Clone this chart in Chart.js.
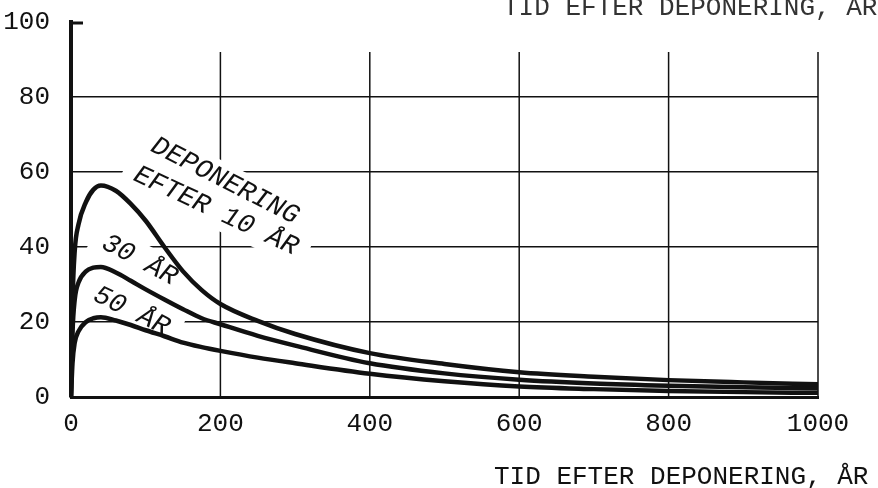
<!DOCTYPE html>
<html>
<head>
<meta charset="utf-8">
<script src="https://cdn.jsdelivr.net/npm/chart.js@4.4.1/dist/chart.umd.min.js"></script>
<style>
  html, body { margin: 0; padding: 0; background: #fff; }
  canvas { display: block; }
</style>
</head>
<body>
<canvas id="c" width="878" height="488"></canvas>
<script>
// Time after deposition (years)
const years   = [0, 2, 5, 10, 20, 30, 40, 60, 80, 100, 125, 150, 175, 200, 250, 300, 400, 500, 600, 700, 800, 900, 1000];
// Curves for deposition after 10, 30 and 50 years
const after10 = [0, 25, 39, 46, 52, 55.3, 56.4, 55, 51.5, 47, 40, 33.5, 28.5, 24.8, 20.3, 16.8, 11.7, 8.8, 6.6, 5.4, 4.5, 3.9, 3.4];
const after30 = [0, 17, 26, 30.5, 33.5, 34.5, 34.7, 33.2, 31, 28.7, 26, 23.4, 21, 19.4, 16.3, 13.7, 9, 6.3, 4.6, 3.6, 3.0, 2.6, 2.3];
const after50 = [0, 9, 14.5, 17.5, 20, 21, 21.3, 20.4, 19.2, 17.8, 16.2, 14.5, 13.3, 12.3, 10.5, 9, 6.2, 4.2, 2.8, 2.1, 1.6, 1.3, 1.1];

const seriesNames = ['DEPONERING EFTER 10 ÅR', '30 ÅR', '50 ÅR'];
const xTickValues = [0, 200, 400, 600, 800, 1000];
const yTickValues = [0, 20, 40, 60, 80, 100];
const bottomTitle = 'TID EFTER DEPONERING, ÅR';
const topTitle    = 'TID EFTER DEPONERING, AR';

// Text written along the curves (placed in data units, angle in degrees)
const curveLabels = [
  { text: 'DEPONERING',  x: 206, y: 57.6, angle: 27 },
  { text: 'EFTER 10 ÅR', x: 194, y: 49.6, angle: 25 },
  { text: '30 ÅR',       x: 92,  y: 36.5, angle: 28 },
  { text: '50 ÅR',       x: 81,  y: 22.9, angle: 26 }
];

const INK = '#111';
const MONO = '"Liberation Mono", "DejaVu Sans Mono", monospace';
const gridTop = 92;   // vertical rulings stop short of the top of the axis

const toPoints = (vals) => years.map((t, i) => ({ x: t, y: vals[i] }));

const lineStyle = {
  borderColor: INK,
  borderWidth: 4.5,
  pointRadius: 0,
  fill: false,
  cubicInterpolationMode: 'monotone',
  borderCapStyle: 'round',
  borderJoinStyle: 'round'
};

const paper = {
  id: 'paper',
  beforeDatasetsDraw(chart) {
    const { ctx, scales: { x, y } } = chart;
    ctx.save();
    // vertical rulings
    ctx.strokeStyle = INK;
    ctx.lineWidth = 1.5;
    const yTop = y.getPixelForValue(gridTop);
    const yBot = y.getPixelForValue(0);
    xTickValues.filter(v => v > 0).forEach(v => {
      const px = x.getPixelForValue(v);
      ctx.beginPath();
      ctx.moveTo(px, yTop);
      ctx.lineTo(px, yBot);
      ctx.stroke();
    });
    // short tick at the top of the vertical axis
    ctx.lineWidth = 3;
    const p100 = y.getPixelForValue(100);
    ctx.beginPath();
    ctx.moveTo(x.left, p100 + 1);
    ctx.lineTo(x.left + 12, p100 + 1);
    ctx.stroke();
    // blank out rulings behind the curve labels
    ctx.fillStyle = '#fff';
    ctx.font = 'italic 27px ' + MONO;
    curveLabels.forEach(l => {
      const w = ctx.measureText(l.text).width;
      ctx.save();
      ctx.translate(x.getPixelForValue(l.x), y.getPixelForValue(l.y));
      ctx.rotate(l.angle * Math.PI / 180);
      ctx.fillRect(-w / 2 - 12, -17, w + 24, 34);
      ctx.restore();
    });
    ctx.restore();
  },
  afterDatasetsDraw(chart) {
    const { ctx, scales: { x, y } } = chart;
    ctx.save();
    ctx.fillStyle = INK;
    ctx.font = 'italic 27px ' + MONO;
    ctx.textAlign = 'center';
    ctx.textBaseline = 'middle';
    curveLabels.forEach(l => {
      ctx.save();
      ctx.translate(x.getPixelForValue(l.x), y.getPixelForValue(l.y));
      ctx.rotate(l.angle * Math.PI / 180);
      ctx.fillText(l.text, 0, 0);
      ctx.restore();
    });
    // axis title below and repeated at the top
    ctx.font = '26px ' + MONO;
    ctx.textAlign = 'left';
    ctx.textBaseline = 'alphabetic';
    ctx.fillText(bottomTitle, 494, 484);
    ctx.fillStyle = '#333';
    ctx.fillText(topTitle, 503, 15);
    ctx.restore();
  }
};

new Chart(document.getElementById('c'), {
  type: 'line',
  data: {
    datasets: [
      Object.assign({ label: seriesNames[0], data: toPoints(after10) }, lineStyle),
      Object.assign({ label: seriesNames[1], data: toPoints(after30) }, lineStyle),
      Object.assign({ label: seriesNames[2], data: toPoints(after50) }, lineStyle)
    ]
  },
  options: {
    responsive: false,
    animation: false,
    layout: { padding: { top: 22, right: 60, bottom: 0, left: 0 } },
    plugins: { legend: { display: false }, tooltip: { enabled: false } },
    scales: {
      x: {
        type: 'linear',
        min: 0, max: 1000,
        afterFit: (s) => { s.height = 91; },
        afterBuildTicks: (s) => { s.ticks = xTickValues.map(v => ({ value: v })); },
        grid: { display: false, drawTicks: false },
        border: { display: true, color: INK, width: 3 },
        ticks: {
          color: INK,
          font: { family: MONO, size: 26 },
          padding: 12,
          maxRotation: 0,
          autoSkip: false,
          callback: (v) => String(v)
        }
      },
      y: {
        min: 0, max: 100,
        afterFit: (s) => { s.width = 71; s.paddingTop = 0; s.paddingBottom = 0; },
        afterBuildTicks: (s) => { s.ticks = yTickValues.map(v => ({ value: v })); },
        grid: {
          drawTicks: false,
          lineWidth: 1.5,
          color: (c) => (c.tick && (c.tick.value === 0 || c.tick.value === 100)) ? 'rgba(0,0,0,0)' : INK
        },
        border: { display: true, color: INK, width: 4 },
        ticks: {
          color: INK,
          font: { family: MONO, size: 26 },
          padding: 21,
          callback: (v) => String(v)
        }
      }
    }
  },
  plugins: [paper]
});
</script>
</body>
</html>
